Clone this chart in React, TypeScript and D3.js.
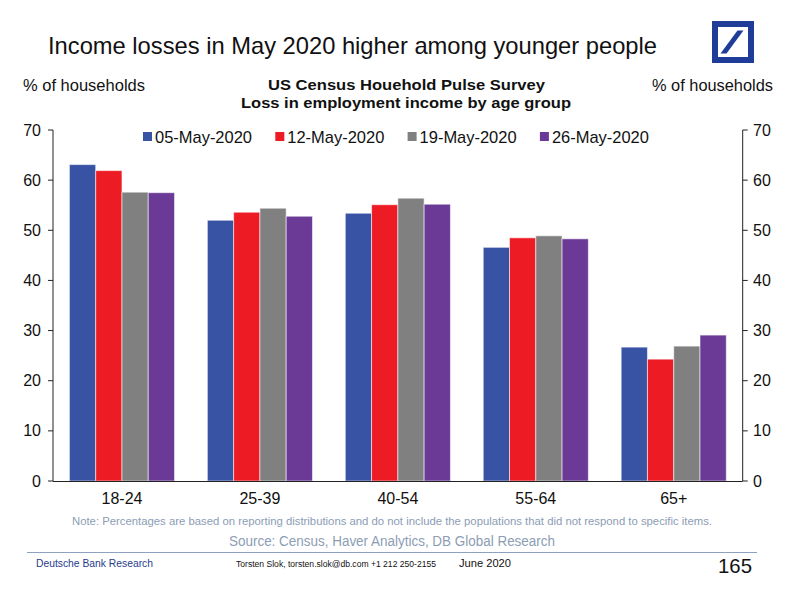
import React from "react";
import * as d3 from "d3";

const categories = ["18-24", "25-39", "40-54", "55-64", "65+"];
const seriesNames = ["05-May-2020", "12-May-2020", "19-May-2020", "26-May-2020"];
const may05 = [63.1, 52.0, 53.4, 46.6, 26.7];
const may12 = [61.9, 53.6, 55.1, 48.5, 24.3];
const may19 = [57.6, 54.4, 56.4, 48.9, 26.9];
const may26 = [57.5, 52.8, 55.2, 48.3, 29.1];
const seriesValues = [may05, may12, may19, may26];
const colors = ["#3953a4", "#ed1c24", "#808080", "#6a3a96"];
const yTicks = [0, 10, 20, 30, 40, 50, 60, 70];

const W = 795;
const H = 594;
const FONT = "'Liberation Sans', Arial, sans-serif";

export default function App() {
  const left = 53;
  const right = 742.7;
  const top = 130;
  const bottom = 481;

  const x = d3.scaleBand<string>().domain(categories).range([left, right]).paddingInner(0.238).paddingOuter(0.119);
  const xi = d3.scaleBand<number>().domain(d3.range(seriesNames.length)).range([0, x.bandwidth()]).padding(0);
  const y = d3.scaleLinear().domain([0, 70]).range([bottom, top]);

  const textGray = "#8c9db5";

  return (
    <svg width={W} height={H} style={{ position: "absolute", left: 0, top: 0, background: "#fff" }} fontFamily={FONT}>
      <rect x={0} y={0} width={W} height={H} fill="#fff" />
      {/* Title */}
      <text x={48} y={54} fontSize={24} fill="#111" textLength={609} lengthAdjust="spacingAndGlyphs">
        Income losses in May 2020 higher among younger people
      </text>
      {/* Logo */}
      <rect x={715} y={24} width={36} height={36} fill="none" stroke="#1f3c99" strokeWidth={6} />
      <polygon points="720.5,53.5 726.5,53.5 743.5,30.5 737.5,30.5" fill="#1f3c99" />

      {/* Axis titles */}
      <text x={23} y={91} fontSize={16} fill="#111" textLength={122} lengthAdjust="spacingAndGlyphs">% of households</text>
      <text x={652} y={91} fontSize={16} fill="#111" textLength={121} lengthAdjust="spacingAndGlyphs">% of households</text>
      <text x={268} y={90} fontSize={15} fontWeight="bold" fill="#111" textLength={277} lengthAdjust="spacingAndGlyphs">US Census Houehold Pulse Survey</text>
      <text x={241} y={108} fontSize={15} fontWeight="bold" fill="#111" textLength={330} lengthAdjust="spacingAndGlyphs">Loss in employment income by age group</text>

      {/* Bars */}
      {categories.map((c, ci) => (
        <g key={c} transform={`translate(${x(c)},0)`}>
          {seriesValues.map((vals, si) => (
            <rect
              key={si}
              x={xi(si)}
              y={y(vals[ci])}
              width={xi.bandwidth()}
              height={y(0) - y(vals[ci])}
              fill={colors[si]}
              stroke="#ffffff"
              strokeOpacity={0.55}
              strokeWidth={1}
            />
          ))}
        </g>
      ))}

      {/* Axes */}
      <g stroke="#222" strokeWidth={1} fill="none">
        <line x1={left} y1={top} x2={left} y2={bottom} />
        <line x1={right} y1={top} x2={right} y2={bottom} />
        <line x1={left} y1={bottom + 0.5} x2={right} y2={bottom + 0.5} />
        {yTicks.map((t) => (
          <g key={t}>
            <line x1={left - 5} x2={left} y1={y(t)} y2={y(t)} />
            <line x1={right} x2={right + 5} y1={y(t)} y2={y(t)} />
          </g>
        ))}
      </g>
      {yTicks.map((t) => (
        <g key={"l" + t} fontSize={16} fill="#111">
          <text x={41} y={y(t) + 5.5} textAnchor="end">{t}</text>
          <text x={753} y={y(t) + 5.5} textAnchor="start">{t}</text>
        </g>
      ))}
      {categories.map((c) => (
        <text key={"x" + c} x={(x(c) as number) + x.bandwidth() / 2} y={504} fontSize={16} fill="#111" textAnchor="middle">
          {c}
        </text>
      ))}

      {/* Legend */}
      {seriesNames.map((s, i) => {
        const lx = 143 + i * 132.3;
        return (
          <g key={s}>
            <rect x={lx} y={132} width={9} height={9} fill={colors[i]} />
            <text x={lx + 12} y={143} fontSize={17} fill="#111" textLength={97} lengthAdjust="spacingAndGlyphs">{s}</text>
          </g>
        );
      })}

      {/* Notes */}
      <text x={72} y={525} fontSize={11} fill={textGray} textLength={640} lengthAdjust="spacingAndGlyphs">
        Note: Percentages are based on reporting distributions and do not include the populations that did not respond to specific items.
      </text>
      <text x={229} y={546} fontSize={14} fill={textGray} textLength={326} lengthAdjust="spacingAndGlyphs">
        Source: Census, Haver Analytics, DB Global Research
      </text>
      <line x1={27} x2={757} y1={552.5} y2={552.5} stroke="#8ea2bf" strokeWidth={1.2} />

      {/* Footer */}
      <text x={36} y={567} fontSize={10.5} fill="#1f3c8c" textLength={117} lengthAdjust="spacingAndGlyphs">Deutsche Bank Research</text>
      <text x={236} y={567} fontSize={8.5} fill="#111" textLength={200} lengthAdjust="spacingAndGlyphs">
        Torsten Slok, torsten.slok@db.com  +1 212 250-2155
      </text>
      <text x={459} y={567} fontSize={10.5} fill="#111" textLength={52} lengthAdjust="spacingAndGlyphs">June 2020</text>
      <text x={718} y={573} fontSize={21} fill="#111" textLength={34} lengthAdjust="spacingAndGlyphs">165</text>
    </svg>
  );
}
